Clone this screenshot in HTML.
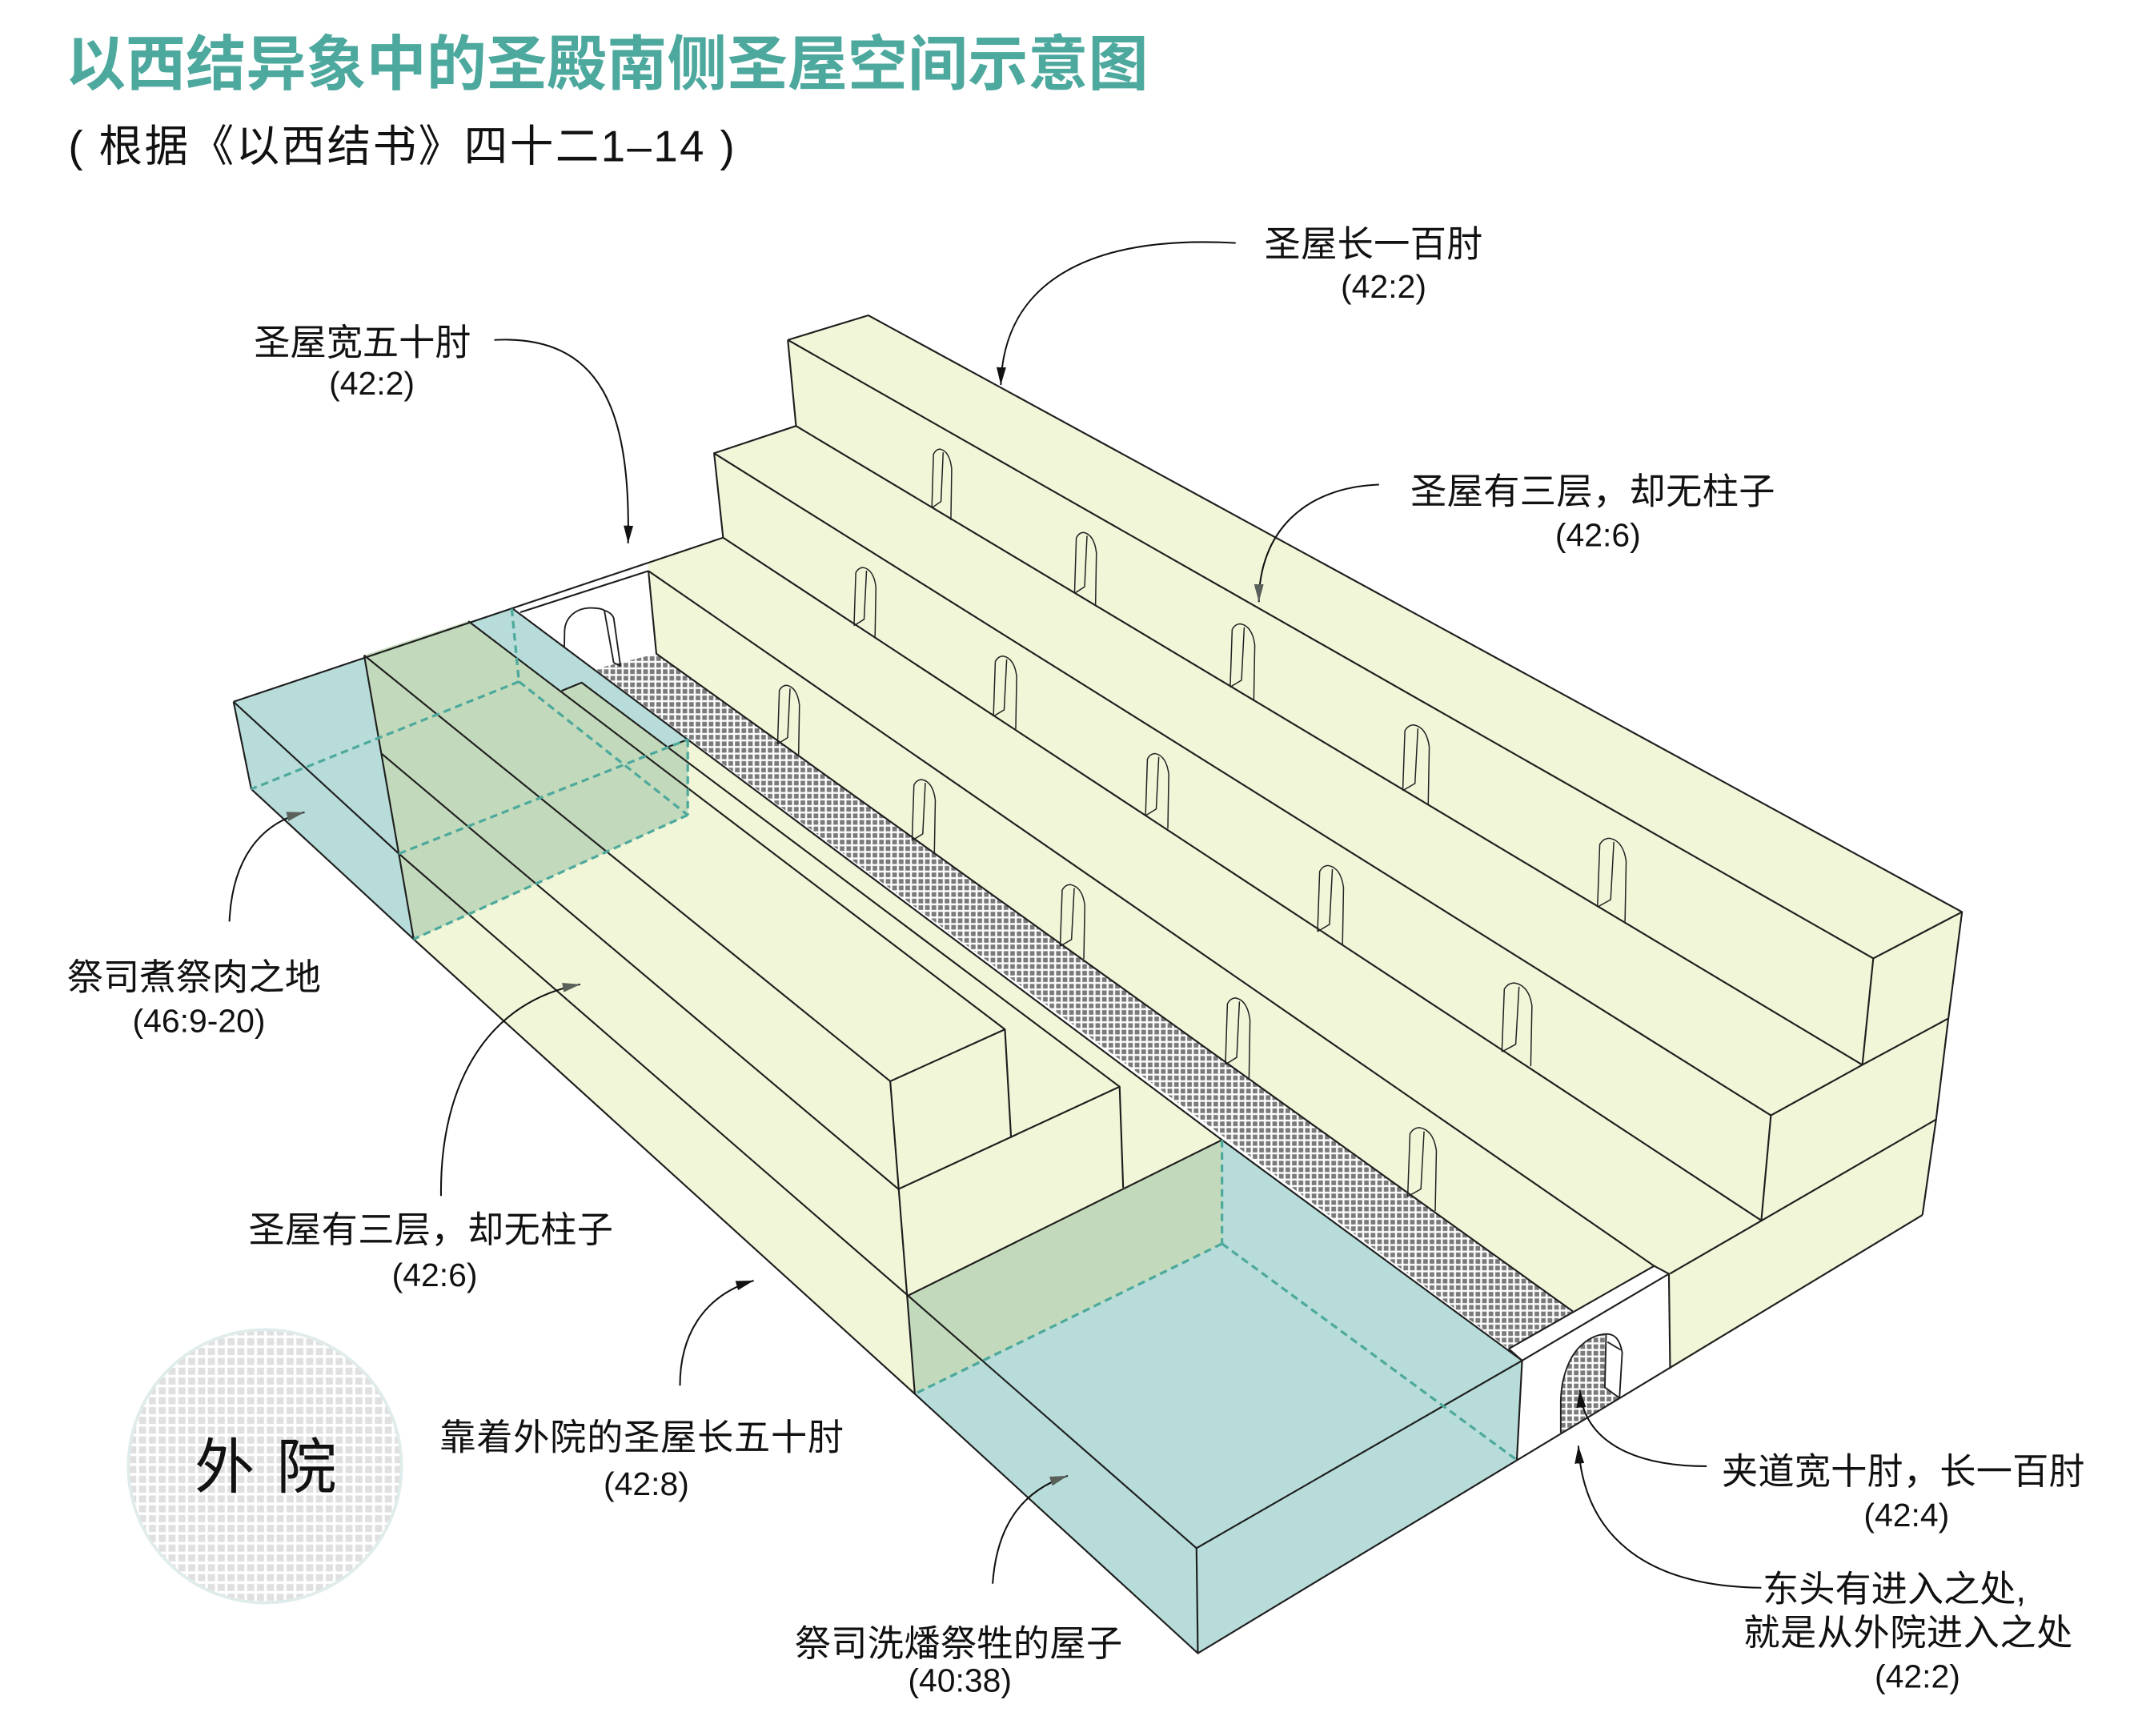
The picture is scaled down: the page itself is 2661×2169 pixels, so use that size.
<!DOCTYPE html>
<html><head><meta charset="utf-8"><style>
html,body{margin:0;padding:0;background:#fff;}
svg{display:block;}
text{font-family:"Liberation Sans","Noto Sans CJK SC",sans-serif;fill:#111;}
</style></head><body>
<svg width="2661" height="2169" viewBox="0 0 1560 1271.6" xmlns="http://www.w3.org/2000/svg">
<defs>
<pattern id="hatch" width="4.8" height="4.8" patternUnits="userSpaceOnUse"><rect width="4.8" height="4.8" fill="#fff"/><rect x="0.7" y="0.7" width="3.4" height="3.4" fill="#7a7a7a"/></pattern>
<pattern id="court" width="7.2" height="7.2" patternUnits="userSpaceOnUse"><rect width="7.2" height="7.2" fill="#fff"/><rect x="1" y="1" width="5.2" height="5.2" fill="#e0e0e0"/></pattern>
<marker id="ah" viewBox="0 0 13 7" refX="13" refY="3.5" markerWidth="13" markerHeight="7" orient="auto" markerUnits="userSpaceOnUse"><path d="M0,0 L13,3.5 L0,7 z" fill="#111"/></marker>
<marker id="ahg" viewBox="0 0 13 7" refX="13" refY="3.5" markerWidth="13" markerHeight="7" orient="auto" markerUnits="userSpaceOnUse"><path d="M0,0 L13,3.5 L0,7 z" fill="#5a605a"/></marker>
</defs>

<!-- Title -->
<text x="48" y="62" font-size="44" font-weight="700" style="fill:#4da89e" textLength="793">以西结异象中的圣殿南侧圣屋空间示意图</text>
<text x="50" y="118" font-size="32" textLength="488">( 根据《以西结书》四十二1–14 )</text>

<!-- North block fill -->
<polygon points="577,249 636,231 1437,668 1408,890 1223,1003 1151.9,960.5 480.7,478.8 474.9,418.2 474.4,412.4 529.6,393.8 523,332 583,312" fill="#f2f6d8"/>
<!-- passage hatch -->
<polygon points="435.8,490 480.7,478.8 1151.9,960.5 1105,988" fill="url(#hatch)"/>
<!-- west wall -->
<polygon points="375.2,445.6 474.4,412.4 474.9,418.2 480.7,478.8 435.8,490" fill="#fff"/>
<!-- east wall -->
<polygon points="1105,988 1211.5,927.3 1222.3,933.1 1223.2,1002.5 1110.9,1069.9 1114.8,996.6" fill="#fff"/>
<!-- east door hatch -->
<path d="M1143.1,1049.4 L1143.1,1026 C1143.5,1008 1150,992 1158.8,984.9 C1164,980 1170,977.5 1176.3,977.1 L1175.4,1016.2 L1186.1,1024 Z" fill="url(#hatch)"/>

<!-- South block fill -->
<polygon points="266.7,480 343,455 411.3,506 426,500 489.5,547 503.7,541.7 895,835 895,911 670,1021 303,688" fill="#f2f6d8"/>

<!-- Blue boxes -->
<polygon points="171,514 375.2,445.6 503.7,541.7 503.7,597 303,688 184,578" fill="#b7dcd9"/>
<polygon points="266.7,480 343,455 411.3,506 426,500 489.5,547 503.7,541.7 503.7,597 303,688" fill="#c2d9bb"/>
<polygon points="665,949 895,835 1114.8,996.6 1110.9,1069.9 877.3,1211 670,1021" fill="#b7dcd9"/>
<polygon points="665,949 895,835 895,911 670,1021" fill="#c2d9bb"/>

<!-- Lines -->
<g fill="none" stroke="#1e1e1e" stroke-width="1.25" stroke-linejoin="round">
<path d="M577,249 L636,231 L1437,668 L1427,746 L1418,820 L1408,890"/>
<path d="M577,249 L1372,702 L1437,668"/>
<path d="M577,249 L583,312 L1364,780 L1427,746"/>
<path d="M1372,702 L1364,780"/>
<path d="M583,312 L523,332 L1297,817 L1364,780"/>
<path d="M523,332 L529.6,393.8 L1290,894"/>
<path d="M1297,817 L1290,894"/>
<path d="M1223,933 L1418,820"/>
<path d="M474.9,418.2 L1211.5,927.3 L1222.3,933.1 L1223.2,1002.5"/>
<path d="M474.9,418.2 L480.7,478.8 L1151.9,960.5"/>
<path d="M171,514 L529.6,393.8"/>
<path d="M381.1,448.5 L474.9,418.2"/>
<path d="M1105,988 L1211.5,927.3"/>
<path d="M1114.8,996.6 L1222.3,933.1"/>
<path d="M1105,988 L1114.8,996.6"/>
<path d="M184,578 L303,688 L670,1021 L877.3,1211 L1408,890"/>
<path d="M375.2,445.6 L503.7,541.7 L895,835 L1114.8,996.6"/>
<path d="M266.7,480 L652,792 L670,1021"/>
<path d="M343,455 L736,754 L740.5,833.5"/>
<path d="M652,792 L736,754"/>
<path d="M411.3,506 L426,500 L820,796 L822.6,870"/>
<path d="M658,871 L820,796"/>
<path d="M489.5,547 L503.7,541.7"/>
<path d="M665,949 L895,835"/>
<path d="M171,514 L292.1,625.3 L665,949"/>
<path d="M279.4,552 L658,871"/>
<path d="M266.7,480 L303,688"/>
<path d="M171,514 L184,578"/>
<path d="M665,949 L876.3,1134 L1114.8,996.6"/>
<path d="M876.3,1134 L877.3,1211"/>
<path d="M1114.8,996.6 L1110.9,1069.9"/>
</g>

<!-- dashed hidden edges -->
<g fill="none" stroke="#4da99c" stroke-width="1.9" stroke-dasharray="5.5 3.5">
<path d="M374.8,445.9 L380.1,499.3"/>
<path d="M380.1,499.3 L184,578"/>
<path d="M380.1,499.3 L503.7,597"/>
<path d="M503.7,541.7 L503.7,597"/>
<path d="M503.7,597 L302.9,687.9"/>
<path d="M292.1,625.3 L503.7,541.7"/>
<path d="M895,835 L895,911"/>
<path d="M895,911 L670,1021"/>
<path d="M895,911 L1111,1069.5"/>
</g>

<!-- doors on north block -->
<g fill="none" stroke="#222" stroke-width="1.5" stroke-linejoin="round">
<path vector-effect="non-scaling-stroke" transform="translate(682.5,329) scale(14.5,52)" d="M0,.826 L.08,.074 Q.2,0 .42,0 Q.9,.03 1,.277 L.96,1 M.57,.045 L.46,.737 L0,.826"/>
<path vector-effect="non-scaling-stroke" transform="translate(787,390) scale(16,54)" d="M0,.826 L.08,.074 Q.2,0 .42,0 Q.9,.03 1,.277 L.96,1 M.57,.045 L.46,.737 L0,.826"/>
<path vector-effect="non-scaling-stroke" transform="translate(901,457) scale(18,56)" d="M0,.826 L.08,.074 Q.2,0 .42,0 Q.9,.03 1,.277 L.96,1 M.57,.045 L.46,.737 L0,.826"/>
<path vector-effect="non-scaling-stroke" transform="translate(1027.4,531) scale(19.4,58.2)" d="M0,.826 L.08,.074 Q.2,0 .42,0 Q.9,.03 1,.277 L.96,1 M.57,.045 L.46,.737 L0,.826"/>
<path vector-effect="non-scaling-stroke" transform="translate(1170,614) scale(21,61)" d="M0,.826 L.08,.074 Q.2,0 .42,0 Q.9,.03 1,.277 L.96,1 M.57,.045 L.46,.737 L0,.826"/>
<path vector-effect="non-scaling-stroke" transform="translate(625.5,415.7) scale(16,51.5)" d="M0,.826 L.08,.074 Q.2,0 .42,0 Q.9,.03 1,.277 L.96,1 M.57,.045 L.46,.737 L0,.826"/>
<path vector-effect="non-scaling-stroke" transform="translate(727.6,480.6) scale(17,53.4)" d="M0,.826 L.08,.074 Q.2,0 .42,0 Q.9,.03 1,.277 L.96,1 M.57,.045 L.46,.737 L0,.826"/>
<path vector-effect="non-scaling-stroke" transform="translate(839,552) scale(17,55)" d="M0,.826 L.08,.074 Q.2,0 .42,0 Q.9,.03 1,.277 L.96,1 M.57,.045 L.46,.737 L0,.826"/>
<path vector-effect="non-scaling-stroke" transform="translate(965,634) scale(19,58.5)" d="M0,.826 L.08,.074 Q.2,0 .42,0 Q.9,.03 1,.277 L.96,1 M.57,.045 L.46,.737 L0,.826"/>
<path vector-effect="non-scaling-stroke" transform="translate(1100,720) scale(22,61)" d="M0,.826 L.08,.074 Q.2,0 .42,0 Q.9,.03 1,.277 L.96,1 M.57,.045 L.46,.737 L0,.826"/>
<path vector-effect="non-scaling-stroke" transform="translate(569.5,502) scale(16,52)" d="M0,.826 L.08,.074 Q.2,0 .42,0 Q.9,.03 1,.277 L.96,1 M.57,.045 L.46,.737 L0,.826"/>
<path vector-effect="non-scaling-stroke" transform="translate(668,571) scale(17,54)" d="M0,.826 L.08,.074 Q.2,0 .42,0 Q.9,.03 1,.277 L.96,1 M.57,.045 L.46,.737 L0,.826"/>
<path vector-effect="non-scaling-stroke" transform="translate(776.5,648) scale(18,54.5)" d="M0,.826 L.08,.074 Q.2,0 .42,0 Q.9,.03 1,.277 L.96,1 M.57,.045 L.46,.737 L0,.826"/>
<path vector-effect="non-scaling-stroke" transform="translate(897.5,731) scale(18,59)" d="M0,.826 L.08,.074 Q.2,0 .42,0 Q.9,.03 1,.277 L.96,1 M.57,.045 L.46,.737 L0,.826"/>
<path vector-effect="non-scaling-stroke" transform="translate(1031,826) scale(21,61)" d="M0,.826 L.08,.074 Q.2,0 .42,0 Q.9,.03 1,.277 L.96,1 M.57,.045 L.46,.737 L0,.826"/>
</g>

<!-- wall doors -->
<g fill="none" stroke="#1e1e1e" stroke-width="1.1" stroke-linejoin="round">
<path d="M413.3,474 L413.5,462 C414,452 422,445.5 432,445.3 C437,445.2 441,446 442.6,447.1 L449.5,485.6"/>
<path d="M442.6,447.1 C447,448.5 449,451 449.5,453 L454.4,487.6 L449.5,485.6"/>
<path d="M1143.1,1049.4 L1143.1,1026 C1143.5,1008 1150,992 1158.8,984.9 C1164,980 1170,977.5 1176.3,977.1 C1181,977 1186,979 1188.1,990.8 L1186.1,1024"/>
<path d="M1176.3,977.1 L1175.4,1016.2 L1186.1,1024"/>
<path d="M1177.3,983 L1187.1,988.8"/>
</g>

<!-- Outer court -->
<circle cx="194" cy="1074" r="100" fill="url(#court)" stroke="#e0eceb" stroke-width="2.2"/>
<text x="142.5" y="1090" font-size="44">外</text>
<text x="202.5" y="1090" font-size="44">院</text>

<!-- Arrows -->
<g fill="none" stroke="#111" stroke-width="1.2">
<path d="M905,178 C800,172 735,205 733,282" marker-end="url(#ah)"/>
<path d="M362,249 C440,245 462,300 460,398" marker-end="url(#ah)"/>
<path d="M1010,355 C955,357 922,390 922,441" marker-end="url(#ahg)"/>
<path d="M168,675 C170,630 190,603 223,595" marker-end="url(#ahg)"/>
<path d="M323,876 C322,790 360,733 425,721" marker-end="url(#ahg)"/>
<path d="M498,1015 C498,975 518,948 552,938" marker-end="url(#ah)"/>
<path d="M727,1160 C730,1118 748,1092 782,1081" marker-end="url(#ahg)"/>
<path d="M1250,1074 C1195,1074 1160,1055 1157,1018" marker-end="url(#ah)"/>
<path d="M1290,1163 C1205,1162 1160,1125 1156,1059" marker-end="url(#ah)"/>
</g>

<!-- Labels -->
<g font-size="26.5">
<text x="926" y="188" textLength="160">圣屋长一百肘</text>
<text x="186" y="260" textLength="159">圣屋宽五十肘</text>
<text x="1033" y="369" textLength="267">圣屋有三层，却无柱子</text>
<text x="49" y="725" textLength="186">祭司煮祭肉之地</text>
<text x="182" y="910" textLength="267">圣屋有三层，却无柱子</text>
<text x="322" y="1062" textLength="296">靠着外院的圣屋长五十肘</text>
<text x="582" y="1213" textLength="240">祭司洗燔祭牲的屋子</text>
<text x="1261" y="1087" textLength="266">夹道宽十肘，长一百肘</text>
<text x="1291" y="1173">东头有进入之处,</text>
<text x="1277" y="1205" textLength="241">就是从外院进入之处</text>
</g>
<g font-size="24">
<text x="982" y="218">(42:2)</text>
<text x="241" y="289">(42:2)</text>
<text x="1139" y="400">(42:6)</text>
<text x="97" y="756">(46:9-20)</text>
<text x="287" y="942">(42:6)</text>
<text x="442" y="1095">(42:8)</text>
<text x="665" y="1239">(40:38)</text>
<text x="1365" y="1118">(42:4)</text>
<text x="1373" y="1236">(42:2)</text>
</g>
</svg>
</body></html>
